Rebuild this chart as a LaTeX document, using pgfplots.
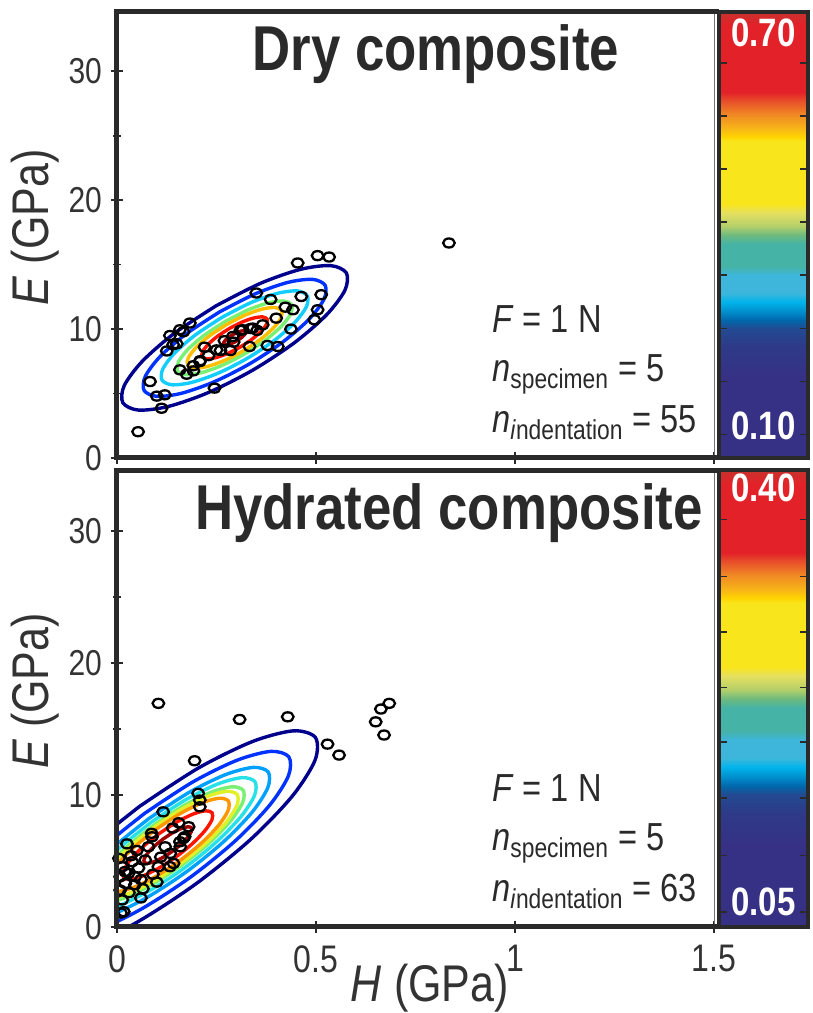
\documentclass[border=0pt]{standalone}
\usepackage{fontspec}
\setmainfont{Liberation Sans}
\usepackage{graphicx}
\usepackage{pgfplots}
\pgfplotsset{compat=1.18}

\definecolor{frame}{HTML}{2A2A2A}
\definecolor{ticktxt}{HTML}{333333}
\definecolor{cNavy}{RGB}{0,0,140}
\definecolor{cBlue}{RGB}{0,50,255}
\definecolor{cSky}{RGB}{0,160,255}
\definecolor{cCyan}{RGB}{20,205,255}
\definecolor{cAqua}{RGB}{40,225,230}
\definecolor{cGreen}{RGB}{120,240,115}
\definecolor{cYellow}{RGB}{225,240,40}
\definecolor{cGold}{RGB}{255,190,0}
\definecolor{cOrange}{RGB}{255,150,0}
\definecolor{cRed}{RGB}{255,20,0}
\definecolor{cDark}{RGB}{160,0,0}

\pgfplotsset{
  colormap={cbar}{
    rgb255(0pt)=(55,49,134) rgb255(18pt)=(55,49,134) rgb255(25pt)=(46,58,136)
    rgb255(29pt)=(35,74,146) rgb255(31pt)=(0,105,173) rgb255(33pt)=(0,145,207)
    rgb255(35pt)=(0,180,235) rgb255(37pt)=(62,182,219) rgb255(41pt)=(62,182,219)
    rgb255(43pt)=(69,179,165) rgb255(48pt)=(69,179,165) rgb255(50pt)=(109,186,126)
    rgb255(52pt)=(180,207,106) rgb255(55pt)=(229,224,96) rgb255(57pt)=(249,229,27)
    rgb255(71pt)=(249,229,27) rgb255(72pt)=(255,213,0) rgb255(74pt)=(247,180,24)
    rgb255(77pt)=(240,138,36) rgb255(80pt)=(232,80,42) rgb255(82pt)=(227,33,41)
    rgb255(97pt)=(227,33,41) rgb255(100pt)=(200,50,45)
  },
}

\newcommand{\vs}[1]{\scalebox{1}[1.2]{#1}}
\newcommand{\annfont}{\fontsize{16.3}{19}\selectfont}
\newcommand{\cbfont}{\bfseries\fontsize{16.5}{20}\selectfont}

\pgfplotsset{
  panel/.style={
    scale only axis, width=298.5pt,
    xmin=0, xmax=1.5, ymin=0, ymax=34.6,
    clip mode=individual,
    colormap name=cbar, point meta min=0, point meta max=1,
    axis line style={draw=black!55, line width=0.5pt},
    xtick={0,0.5,1,1.5}, ytick={0,10,20,30}, minor ytick={5,15,25},
    xtick pos=left, ytick pos=left,
    tick align=center, major tick length=6pt, minor tick length=4pt,
    tick style={draw=frame, line width=0.8pt},
    yticklabels={\vs{0},\vs{10},\vs{20},\vs{30}},
    yticklabel style={font=\fontsize{15}{18}\selectfont, text=ticktxt, xshift=-1pt},
    xticklabel style={font=\fontsize{16}{19}\selectfont, text=ticktxt, yshift=-5pt, inner sep=1pt},
    ylabel={\vs{\textit{E} (GPa)}},
    ylabel style={at={(axis description cs:-0.137,0.517)}, anchor=center,
      font=\fontsize{21.5}{26}\selectfont, text=ticktxt},
    colorbar shift/.style={xshift=2.25pt},
    colorbar/width=44.75pt,
  },
  cbstyle/.style={
    at={(parent axis.north east)}, anchor=north west,
    width=44.75pt, scale only axis,
    axis line style={line width=2pt, draw=frame},
    yticklabels={}, ytick pos=both, ytick align=inside,
    major tick length=4pt, tick style={line width=0.7pt, draw=frame},
  },
  cont/.style={smooth, line width=1.7pt},
  pts/.style={only marks, mark=o, mark size=2.9pt, draw=black,
    mark options={line width=1.15pt, yscale=0.78}},
}

\begin{document}
\begin{tikzpicture}
\path[use as bounding box] (0,0) rectangle (406.5pt,506.5pt);

% ---------------- Dry composite ----------------
\begin{axis}[panel, at={(58.5pt,277.5pt)}, anchor=south west, height=223pt,
  xticklabels={},
  colorbar,
  colorbar style={cbstyle,
    ytick={0.053,0.172,0.291,0.41,0.529,0.648,0.767,0.886},
    extra description/.code={
      \node[text=white, font=\cbfont] at (axis description cs:0.5,0.954) {\vs{0.70}};
      \node[text=white, font=\cbfont] at (axis description cs:0.5,0.073) {\vs{0.10}};
    },
  },
]
\addplot[cont, cNavy] coordinates {(0.2492,11.810) (0.1451,9.694) (0.0642,7.524) (0.0183,5.625) (0.0146,4.289) (0.0537,3.717) (0.1296,4.003) (0.2307,5.092) (0.3418,6.830) (0.4459,8.946) (0.5268,11.116) (0.5727,13.015) (0.5764,14.351) (0.5373,14.923) (0.4614,14.637) (0.3603,13.548) (0.2492,11.810)};
\addplot[cont, cBlue] coordinates {(0.2580,11.337) (0.1737,9.623) (0.1081,7.865) (0.0710,6.327) (0.0680,5.245) (0.0996,4.782) (0.1611,5.013) (0.2430,5.895) (0.3330,7.303) (0.4173,9.017) (0.4829,10.775) (0.5200,12.313) (0.5230,13.395) (0.4914,13.858) (0.4299,13.627) (0.3480,12.745) (0.2580,11.337)};
\addplot[cont, cCyan] coordinates {(0.2654,10.939) (0.1977,9.563) (0.1452,8.153) (0.1153,6.918) (0.1129,6.050) (0.1383,5.678) (0.1877,5.864) (0.2534,6.572) (0.3256,7.701) (0.3933,9.077) (0.4458,10.487) (0.4757,11.722) (0.4781,12.590) (0.4527,12.962) (0.4033,12.776) (0.3376,12.068) (0.2654,10.939)};
\addplot[cont, cGreen] coordinates {(0.2719,10.590) (0.2188,9.511) (0.1775,8.404) (0.1541,7.436) (0.1522,6.754) (0.1722,6.462) (0.2109,6.608) (0.2625,7.164) (0.3191,8.050) (0.3722,9.129) (0.4135,10.236) (0.4369,11.204) (0.4388,11.886) (0.4188,12.178) (0.3801,12.032) (0.3285,11.476) (0.2719,10.590)};
\addplot[cont, cGold] coordinates {(0.2761,10.366) (0.2323,9.477) (0.1984,8.566) (0.1791,7.768) (0.1775,7.207) (0.1939,6.967) (0.2258,7.087) (0.2683,7.544) (0.3149,8.274) (0.3587,9.163) (0.3926,10.074) (0.4119,10.872) (0.4135,11.433) (0.3971,11.673) (0.3652,11.553) (0.3227,11.096) (0.2761,10.366)};
\addplot[cont, cRed] coordinates {(0.2821,10.042) (0.2519,9.428) (0.2284,8.799) (0.2151,8.248) (0.2140,7.861) (0.2254,7.695) (0.2474,7.778) (0.2767,8.094) (0.3089,8.598) (0.3391,9.212) (0.3626,9.841) (0.3759,10.392) (0.3770,10.779) (0.3656,10.945) (0.3436,10.862) (0.3143,10.546) (0.2821,10.042)};
\addplot[cont, cDark] coordinates {(0.2909,9.569) (0.2805,9.357) (0.2724,9.140) (0.2678,8.950) (0.2674,8.817) (0.2713,8.760) (0.2789,8.788) (0.2890,8.897) (0.3001,9.071) (0.3105,9.283) (0.3186,9.500) (0.3232,9.690) (0.3236,9.823) (0.3197,9.880) (0.3121,9.852) (0.3020,9.743) (0.2909,9.569)};

\addplot[pts] coordinates {
(0.834,16.68) (0.454,15.13) (0.504,15.70) (0.533,15.59) (0.513,12.67) (0.504,11.50)
(0.496,10.72) (0.463,12.53) (0.442,11.50) (0.437,10.00) (0.400,10.85) (0.404,8.65)
(0.350,12.80) (0.245,5.42) (0.183,10.47) (0.158,9.95) (0.141,8.78) (0.083,5.93)
(0.120,4.90) (0.112,3.86) (0.053,2.04) (0.167,9.79) (0.150,8.86) (0.260,8.34)
(0.285,8.34) (0.230,7.94) (0.209,7.55) (0.192,7.16) (0.335,10.04) (0.310,9.90)
(0.352,9.90) (0.293,8.99) (0.386,12.30) (0.423,11.70) (0.192,6.76) (0.175,6.50)
(0.133,9.50) (0.378,8.73) (0.158,6.84) (0.208,7.48) (0.250,8.39) (0.291,9.43)
(0.316,9.95) (0.341,10.08) (0.366,10.33) (0.333,8.65) (0.270,9.10) (0.220,8.60)
(0.125,8.30) (0.100,4.80)
};

\node[anchor=base, inner sep=0, text=frame, font=\bfseries\fontsize{26.4}{30}\selectfont]
  at (axis description cs:0.534,0.868) {\vs{Dry composite}};
\node[anchor=base west, inner sep=0, text=frame, font=\annfont]
  at (axis description cs:0.628,0.2825) {\vs{\textit{F} = 1 N}};
\node[anchor=base west, inner sep=0, text=frame, font=\annfont]
  at (axis description cs:0.628,0.1704) {\vs{\textit{n}\textsubscript{specimen} = 5}};
\node[anchor=base west, inner sep=0, text=frame, font=\annfont]
  at (axis description cs:0.628,0.0561) {\vs{\textit{n}\textsubscript{\textit{i}ndentation} = 55}};

\draw[line width=2.5pt, draw=frame, line join=miter]
  ([xshift=2.5pt]rel axis cs:1,1) -- (rel axis cs:0,1) -- (rel axis cs:0,0) -- ([xshift=2.5pt]rel axis cs:1,0);
\end{axis}

% ---------------- Hydrated composite ----------------
\begin{axis}[panel, at={(58.5pt,43pt)}, anchor=south west, height=228.25pt,
  xticklabels={\vs{0},\vs{0.5},\vs{1},\vs{1.5}},
  xlabel={\vs{\textit{H} (GPa)}},
  xlabel style={at={(axis description cs:0.524,-0.135)}, anchor=center, inner sep=0pt,
    font=\fontsize{21.5}{26}\selectfont, text=ticktxt},
  colorbar,
  colorbar style={cbstyle,
    ytick={0.033,0.157,0.283,0.405,0.524,0.646,0.768,0.892},
    extra description/.code={
      \node[text=white, font=\cbfont] at (axis description cs:0.5,0.962) {\vs{0.40}};
      \node[text=white, font=\cbfont] at (axis description cs:0.5,0.055) {\vs{0.05}};
    },
  },
]
\addplot[cont, cNavy] coordinates {(0.0571,9.149) (-0.0795,5.804) (-0.1844,2.524) (-0.2419,-0.196) (-0.2431,-1.942) (-0.1879,-2.448) (-0.0845,-1.631) (0.0509,0.372) (0.1983,3.271) (0.3349,6.616) (0.4398,9.896) (0.4973,12.616) (0.4985,14.362) (0.4433,14.868) (0.3399,14.051) (0.2045,12.048) (0.0571,9.149)};
\addplot[cont, cBlue] coordinates {(0.0698,8.620) (-0.0422,5.877) (-0.1282,3.187) (-0.1754,0.957) (-0.1764,-0.475) (-0.1311,-0.890) (-0.0463,-0.220) (0.0647,1.423) (0.1856,3.800) (0.2976,6.543) (0.3836,9.233) (0.4308,11.463) (0.4318,12.895) (0.3865,13.310) (0.3017,12.640) (0.1907,10.997) (0.0698,8.620)};
\addplot[cont, cSky] coordinates {(0.0797,8.209) (-0.0132,5.934) (-0.0845,3.704) (-0.1236,1.854) (-0.1244,0.667) (-0.0869,0.323) (-0.0166,0.878) (0.0755,2.240) (0.1757,4.211) (0.2686,6.486) (0.3399,8.716) (0.3790,10.566) (0.3798,11.753) (0.3423,12.097) (0.2720,11.542) (0.1799,10.180) (0.0797,8.209)};
\addplot[cont, cAqua] coordinates {(0.0860,7.944) (0.0055,5.970) (-0.0564,4.035) (-0.0904,2.430) (-0.0911,1.400) (-0.0585,1.102) (0.0025,1.584) (0.0824,2.766) (0.1694,4.476) (0.2499,6.450) (0.3118,8.385) (0.3458,9.990) (0.3465,11.020) (0.3139,11.318) (0.2529,10.836) (0.1730,9.654) (0.0860,7.944)};
\addplot[cont, cGreen] coordinates {(0.0917,7.709) (0.0220,6.003) (-0.0315,4.330) (-0.0608,2.943) (-0.0614,2.052) (-0.0333,1.794) (0.0195,2.211) (0.0885,3.233) (0.1637,4.711) (0.2334,6.417) (0.2869,8.090) (0.3162,9.477) (0.3168,10.368) (0.2887,10.626) (0.2359,10.209) (0.1669,9.187) (0.0917,7.709)};
\addplot[cont, cYellow] coordinates {(0.0945,7.591) (0.0303,6.019) (-0.0190,4.478) (-0.0460,3.199) (-0.0466,2.379) (-0.0206,2.141) (0.0280,2.525) (0.0916,3.466) (0.1609,4.829) (0.2251,6.401) (0.2744,7.942) (0.3014,9.221) (0.3020,10.041) (0.2760,10.279) (0.2274,9.895) (0.1638,8.954) (0.0945,7.591)};
\addplot[cont, cOrange] coordinates {(0.0988,7.415) (0.0427,6.044) (-0.0003,4.699) (-0.0238,3.584) (-0.0243,2.868) (-0.0017,2.660) (0.0407,2.995) (0.0962,3.816) (0.1566,5.005) (0.2127,6.376) (0.2557,7.721) (0.2792,8.836) (0.2797,9.552) (0.2571,9.760) (0.2147,9.425) (0.1592,8.604) (0.0988,7.415)};
\addplot[cont, cRed] coordinates {(0.1065,7.092) (0.0655,6.088) (0.0341,5.104) (0.0168,4.288) (0.0165,3.764) (0.0330,3.613) (0.0640,3.858) (0.1047,4.459) (0.1489,5.328) (0.1899,6.332) (0.2213,7.316) (0.2386,8.132) (0.2389,8.656) (0.2224,8.807) (0.1914,8.562) (0.1507,7.961) (0.1065,7.092)};
\addplot[cont, cDark] coordinates {(0.1164,6.680) (0.0945,6.145) (0.0778,5.620) (0.0686,5.185) (0.0684,4.906) (0.0772,4.825) (0.0937,4.955) (0.1154,5.276) (0.1390,5.740) (0.1609,6.275) (0.1776,6.800) (0.1868,7.235) (0.1870,7.514) (0.1782,7.595) (0.1617,7.465) (0.1400,7.144) (0.1164,6.680)};

\addplot[pts] coordinates {
(0.104,16.95) (0.308,15.73) (0.429,15.93) (0.529,13.86) (0.558,13.03) (0.650,15.55)
(0.663,16.52) (0.684,16.95) (0.671,14.55) (0.195,12.60) (0.204,10.13) (0.208,9.62)
(0.208,9.11) (0.116,8.73) (0.087,7.10) (0.158,6.46) (0.170,6.84) (0.140,7.50)
(0.133,4.57) (0.013,4.57) (0.029,4.07) (0.046,3.81) (0.021,3.30) (0.054,4.47)
(0.071,5.08) (0.038,4.95) (0.008,2.80) (0.013,2.05) (0.017,1.16) (0.008,3.81)
(0.088,6.84) (0.134,5.58) (0.167,6.72) (0.159,6.08) (0.142,4.82) (0.104,4.57)
(0.079,6.08) (0.121,6.08) (0.010,1.06) (0.030,2.60) (0.045,3.20) (0.060,3.60)
(0.020,4.20) (0.035,5.40) (0.005,5.20) (0.065,2.90) (0.090,4.00) (0.110,5.30)
(0.050,5.80) (0.025,6.30) (0.100,3.40) (0.180,7.60) (0.155,7.90) (0.060,2.20)
};

\node[anchor=base, inner sep=0, text=frame, font=\bfseries\fontsize{26.4}{30}\selectfont]
  at (axis description cs:0.556,0.870) {\vs{Hydrated composite}};
\node[anchor=base west, inner sep=0, text=frame, font=\annfont]
  at (axis description cs:0.628,0.276) {\vs{\textit{F} = 1 N}};
\node[anchor=base west, inner sep=0, text=frame, font=\annfont]
  at (axis description cs:0.628,0.1665) {\vs{\textit{n}\textsubscript{specimen} = 5}};
\node[anchor=base west, inner sep=0, text=frame, font=\annfont]
  at (axis description cs:0.628,0.0548) {\vs{\textit{n}\textsubscript{\textit{i}ndentation} = 63}};

\draw[line width=2.5pt, draw=frame, line join=miter]
  ([xshift=2.5pt]rel axis cs:1,1) -- (rel axis cs:0,1) -- (rel axis cs:0,0) -- ([xshift=2.5pt]rel axis cs:1,0);
\end{axis}
\end{tikzpicture}
\end{document}
